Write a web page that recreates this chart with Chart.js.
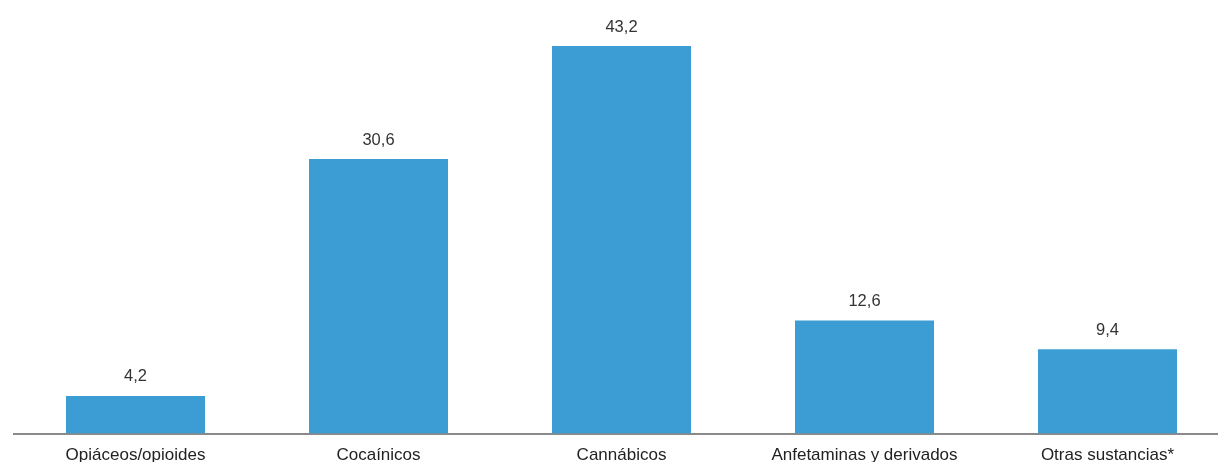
<!DOCTYPE html>
<html>
<head>
<meta charset="utf-8">
<script src="https://cdn.jsdelivr.net/npm/chart.js@4/dist/chart.umd.min.js"></script>
<style>
    html, body { margin: 0; padding: 0; background: #fff; overflow: hidden; }
    #wrap { width: 1229px; height: 462px; }
</style>
</head>
<body>
<div id="wrap"><canvas id="barChart"></canvas></div>
<script>
var categories = [
    "Opiáceos/opioides",
    "Cocaínicos",
    "Cannábicos",
    "Anfetaminas y derivados",
    "Otras sustancias*",
];
var values = [4.2, 30.6, 43.2, 12.6, 9.4];

// value labels over each bar, comma as decimal mark
var valueLabels = {
    id: "valueLabels",
    afterDatasetsDraw: function (chart) {
        var ctx = chart.ctx;
        var meta = chart.getDatasetMeta(0);
        ctx.save();
        ctx.font = "16.5px 'Liberation Sans', Arial, sans-serif";
        ctx.fillStyle = "#333";
        ctx.textAlign = "center";
        ctx.textBaseline = "middle";
        meta.data.forEach(function (bar, i) {
            ctx.fillText(values[i].toFixed(1).replace(".", ","), bar.x, bar.y - 19);
        });
        ctx.restore();
    },
};

var ctx = document.getElementById("barChart");
new Chart(ctx, {
    type: "bar",
    data: {
        labels: categories,
        datasets: [
            {
                data: values,
                backgroundColor: "#3b9dd3",
                barPercentage: 0.572,
                categoryPercentage: 1,
            },
        ],
    },
    options: {
        responsive: true,
        maintainAspectRatio: false,
        animation: false,
        layout: { padding: { left: 14, right: 0, top: 3, bottom: -16 } },
        plugins: {
            legend: { display: false },
            tooltip: { enabled: false },
        },
        scales: {
            x: {
                grid: { display: false, drawTicks: false },
                border: { display: true, color: "#8a8a8a", width: 2 },
                ticks: {
                    padding: 12,
                    color: "#222",
                    font: { family: "'Liberation Sans', Arial, sans-serif", size: 17 },
                    maxRotation: 0,
                    autoSkip: false,
                },
            },
            y: {
                display: false,
                min: 0,
                max: 48,
            },
        },
    },
    plugins: [valueLabels],
});
</script>
</body>
</html>
